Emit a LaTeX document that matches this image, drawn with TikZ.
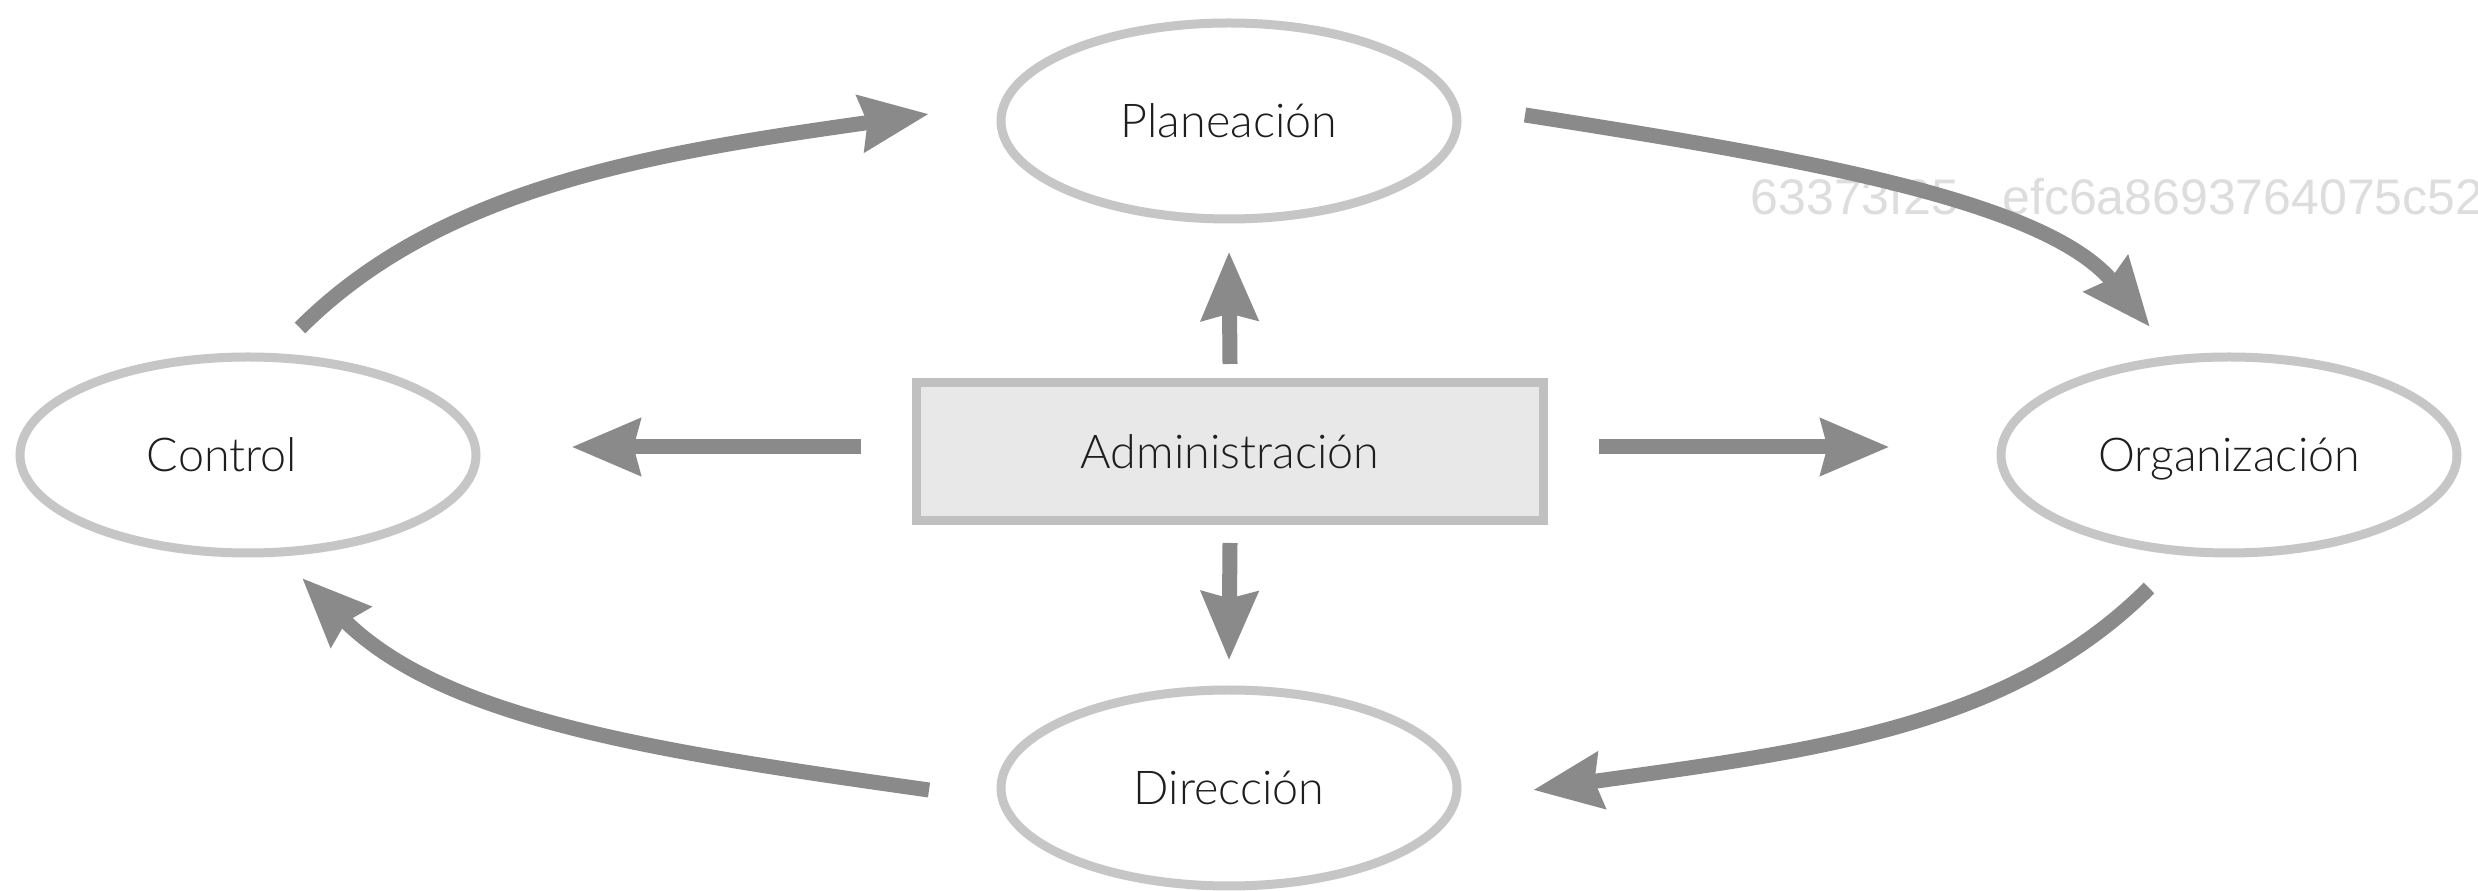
\documentclass[tikz,border=0pt]{standalone}
\usepackage{fontspec}
\IfFontExistsTF{Lato Light}{\setmainfont{Lato Light}}{\setmainfont{Lato}}
\newfontfamily\hashfont{Liberation Sans}
\usetikzlibrary{shapes.geometric,arrows.meta,calc}

\definecolor{ringgray}{HTML}{C6C6C6}
\definecolor{boxline}{HTML}{C0C0C0}
\definecolor{boxfill}{HTML}{E8E8E8}
\definecolor{arrowgray}{HTML}{8A8A8A}
\definecolor{inkgray}{HTML}{1E1E1E}
\definecolor{hashgray}{HTML}{DDDDDD}

\begin{document}
\begin{tikzpicture}[x=0.3pt, y=-0.3pt,
  labelfont/.style={font=\fontsize{14pt}{16pt}\selectfont, text=inkgray,
    text height=10pt, text depth=0pt},
  phase/.style={ellipse, draw=ringgray, line width=2.7pt,
    minimum width=136.8pt, minimum height=58.8pt, inner sep=0pt, labelfont},
  lbl/.style={inner sep=0pt, labelfont},
  core/.style={rectangle, draw=boxline, fill=boxfill, line width=2.7pt,
    minimum width=188.1pt, minimum height=41.4pt, inner sep=0pt, labelfont},
  flow/.style={draw=arrowgray, line width=4.5pt,
    -{Stealth[length=20.4pt, width=16.5pt, inset=1.8pt]}},
  hash/.style={anchor=base west, inner sep=0pt, text=hashgray,
    font=\hashfont\fontsize{15pt}{16pt}\selectfont}
]
\fill[white] (0,0) rectangle (2478,891);
\useasboundingbox (0,0) rectangle (2478,891);

% faint hash string behind the upper right arrow
\node[hash] (wm) at (1750,215) {63373f25\hspace{13pt}efc6a8693764075c52};

% the four phases and the central box
\node[phase] (pla) at (1229,121) {Planeación};
\node[phase] (org) at (2229,455) {Organización};
\node[phase] (dir) at (1229,788) {Dirección};
\node[phase] (ctl) at (248,455) {};
\node[lbl]   (ctl-label) at (222,455) {Control};
\node[core]  (adm) at (1230,451.5) {Administración};

% end points of the cycle arrows
\coordinate (c1s) at (300,328);
\coordinate (c1e) at (929,114);
\coordinate (c2s) at (1525,115);
\coordinate (c2e) at (2150,327);
\coordinate (c3s) at (2149,588);
\coordinate (c3e) at (1533,790);
\coordinate (c4s) at (929,790);
\coordinate (c4e) at (302,578);

% cycle: Control -> Planeación -> Organización -> Dirección -> Control
\draw[flow] (c1s) .. controls (441,187) and (652,153) .. (c1e);
\draw[flow] (c2s) .. controls (1800,158) and (2045,200) .. (c2e);
\draw[flow] (c3s) .. controls (2008,729) and (1810,751) .. (c3e);
\draw[flow] (c4s) .. controls (652,751) and (443,719) .. (c4e);

% arrows leaving the central box
\draw[flow] ($(adm.north)+(0,-14)$) -- ($(pla.south)+(0,28)$);
\draw[flow] ($(adm.south)+(0,18)$) -- ($(dir.north)+(0,-25)$);
\draw[flow] ($(adm.west)+(-51,-4.5)$) -- ($(ctl.east)+(91,-8)$);
\draw[flow] ($(adm.east)+(51,-4.5)$) -- ($(org.west)+(-107,-8)$);
\end{tikzpicture}
\end{document}
